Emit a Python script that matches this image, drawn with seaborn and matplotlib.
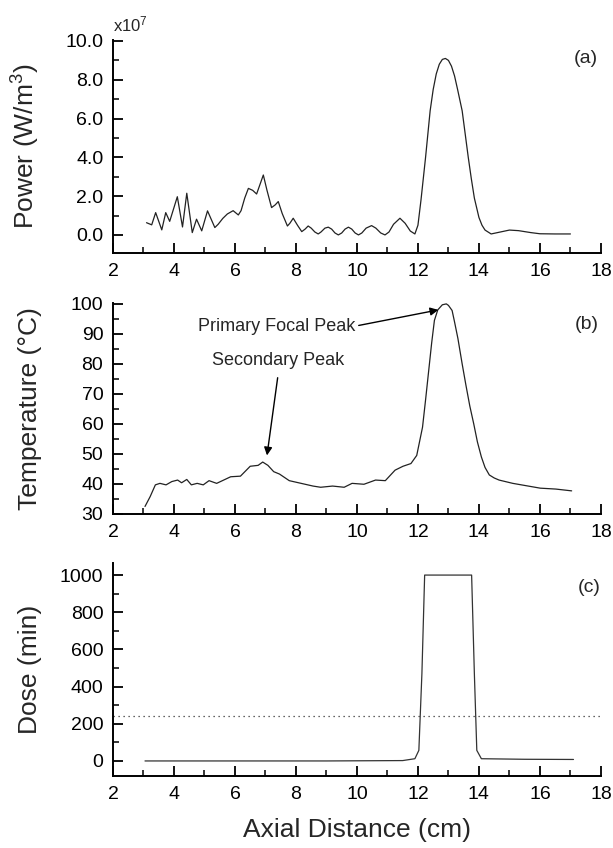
import numpy as np
import pandas as pd
import matplotlib
matplotlib.use("Agg")
import matplotlib.pyplot as plt
from matplotlib.ticker import MultipleLocator, FormatStrFormatter
import seaborn as sns

# ---------------- data ----------------
power_x = [3.10, 3.27, 3.40, 3.60, 3.73, 3.86, 4.11, 4.28, 4.42, 4.60, 4.74, 4.91, 5.10, 5.34,
           5.45, 5.60, 5.75, 5.94, 6.11, 6.20, 6.32, 6.44, 6.58, 6.71, 6.82, 6.93, 7.05, 7.20,
           7.32, 7.42, 7.55, 7.72, 7.80, 7.91, 8.05, 8.19, 8.30, 8.40, 8.50, 8.62, 8.73, 8.82,
           8.95, 9.06, 9.17, 9.28, 9.39, 9.50, 9.61, 9.72, 9.83, 9.94, 10.05, 10.16, 10.30,
           10.48, 10.62, 10.78, 10.92, 11.05, 11.20, 11.41, 11.58, 11.75, 11.90, 12.00, 12.10,
           12.25, 12.40, 12.50, 12.60, 12.70, 12.80, 12.90, 13.00, 13.10, 13.20, 13.30, 13.45,
           13.65, 13.75, 13.85, 14.00, 14.10, 14.20, 14.40, 14.70, 15.00, 15.30, 15.70, 16.00,
           16.50, 17.00]
power_y = [0.63, 0.52, 1.15, 0.26, 1.15, 0.70, 1.97, 0.41, 2.15, 0.12, 0.81, 0.21, 1.24, 0.38,
           0.55, 0.85, 1.08, 1.25, 1.03, 1.25, 1.90, 2.40, 2.30, 2.11, 2.60, 3.09, 2.30, 1.41,
           1.55, 1.72, 1.10, 0.46, 0.60, 0.86, 0.50, 0.17, 0.30, 0.46, 0.35, 0.15, 0.05, 0.15,
           0.35, 0.40, 0.30, 0.10, 0.00, 0.10, 0.30, 0.40, 0.30, 0.10, 0.00, 0.10, 0.35,
           0.48, 0.35, 0.10, 0.00, 0.15, 0.55, 0.86, 0.60, 0.20, 0.05, 0.50, 1.80,
           4.00, 6.40, 7.50, 8.30, 8.80, 9.05, 9.10, 9.00, 8.70, 8.20, 7.50, 6.40,
           4.00, 2.90, 1.90, 0.90, 0.50, 0.25, 0.05, 0.15, 0.25, 0.22, 0.12, 0.06,
           0.05, 0.05]

temp_x = [3.05, 3.22, 3.39, 3.54, 3.74, 3.93, 4.12, 4.25, 4.42, 4.57, 4.76, 4.96, 5.15, 5.40,
          5.86, 6.18, 6.50, 6.76, 6.91, 7.08, 7.27, 7.46, 7.78, 8.17, 8.56, 8.81, 9.20, 9.58,
          9.84, 10.23, 10.61, 10.93, 11.25, 11.51, 11.77, 11.96, 12.15, 12.25, 12.35, 12.45,
          12.54, 12.65, 12.80, 12.93, 13.00, 13.12, 13.20, 13.31, 13.45, 13.57, 13.70, 13.83,
          13.95, 14.08, 14.20, 14.34, 14.50, 14.66, 15.11, 16.01, 16.52, 17.04]
temp_y = [32.5, 35.8, 39.7, 40.2, 39.7, 40.8, 41.3, 40.4, 41.5, 39.7, 40.2, 39.7, 41.1, 40.2,
          42.4, 42.6, 45.9, 46.2, 47.3, 46.2, 44.1, 43.3, 41.1, 40.2, 39.3, 38.9, 39.3, 38.9,
          40.2, 39.9, 41.3, 41.1, 44.6, 45.9, 46.8, 49.5, 58.9, 68.0, 77.5, 87.0,
          94.5, 98.0, 99.7, 100.0, 99.5, 97.8, 94.0, 88.5, 80.0, 73.1, 66.0, 60.0,
          54.0, 49.0, 45.5, 43.0, 42.0, 41.3, 40.2, 38.6, 38.3, 37.7]

dose_x = [3.05, 6.0, 9.0, 11.50, 11.90, 12.03, 12.13, 12.22, 13.00, 13.76, 13.85, 13.93, 14.08,
          15.5, 17.10]
dose_y = [0, 0, 0, 2, 12, 57, 470, 1000, 1000, 1000, 470, 57, 12, 9, 8]

threshold_x = [2.0, 18.0]
threshold_y = [240, 240]

# ---------------- style ----------------
sns.set_theme(style="ticks")
plt.rcParams['font.family'] = ['Liberation Sans', 'DejaVu Sans']
plt.rcParams['mathtext.default'] = 'regular'

fig = plt.figure(figsize=(6.13, 8.48), dpi=100)
W = 0.796
axA = fig.add_axes([0.1843, 0.7017, W, 0.2511])
axB = fig.add_axes([0.1843, 0.3939, W, 0.2488])
axC = fig.add_axes([0.1843, 0.0849, W, 0.2512])

line_kw = dict(color='#222222', linewidth=0.9)

sns.lineplot(x=power_x, y=power_y, ax=axA, sort=False, **line_kw)
sns.lineplot(x=temp_x, y=temp_y, ax=axB, sort=False, **line_kw)
sns.lineplot(x=dose_x, y=dose_y, ax=axC, sort=False, color='#333333', linewidth=0.9)
sns.lineplot(x=threshold_x, y=threshold_y, ax=axC, sort=False, color='#333333',
             linewidth=0.9, linestyle=(0, (1, 3)))

tick_fs = 14
for ax in (axA, axB, axC):
    ax.set_xlim(2, 18)
    ax.xaxis.set_major_locator(MultipleLocator(2))
    ax.xaxis.set_minor_locator(MultipleLocator(1))
    for s in ('top', 'right'):
        ax.spines[s].set_visible(False)
    for s in ('left', 'bottom'):
        ax.spines[s].set_linewidth(1.4)
        ax.spines[s].set_color('black')
    ax.tick_params(which='major', direction='in', length=7, width=1.3, color='black',
                   labelsize=tick_fs, pad=7, labelcolor='black')
    ax.tick_params(which='minor', direction='in', length=4, width=1.1, color='black')
    ax.set_xlabel('')

axA.set_ylim(-0.93, 10.05)
axA.yaxis.set_major_locator(MultipleLocator(2))
axA.yaxis.set_minor_locator(MultipleLocator(1))
axA.yaxis.set_major_formatter(FormatStrFormatter('%.1f'))
axA.set_ylabel('Power (W/m$^3$)', fontsize=19)
axA.text(0.0, 1.025, 'x10$^7$', transform=axA.transAxes, fontsize=12, ha='left', va='bottom')
axA.text(17.5, 9.1, '(a)', fontsize=tick_fs, ha='center', va='center')

axB.set_ylim(30, 100.3)
axB.yaxis.set_major_locator(MultipleLocator(10))
axB.yaxis.set_minor_locator(MultipleLocator(5))
axB.set_ylabel('Temperature (°C)', fontsize=19)
axB.text(17.55, 93.2, '(b)', fontsize=tick_fs, ha='center', va='center')
axB.annotate('Primary Focal Peak', xy=(12.67, 98.0), xytext=(7.37, 92.6),
             fontsize=13, ha='center', va='center',
             arrowprops=dict(arrowstyle='-|>', color='black', lw=1.0, mutation_scale=12,
                             shrinkA=0, shrinkB=0, relpos=(1.0, 0.5)))
axB.text(7.4, 81.0, 'Secondary Peak', fontsize=13, ha='center', va='center')
axB.annotate('', xy=(7.05, 49.5), xytext=(7.4, 75.4),
             arrowprops=dict(arrowstyle='-|>', color='black', lw=1.0, mutation_scale=12,
                             shrinkA=0, shrinkB=0))

axC.set_ylim(-81, 1065)
axC.yaxis.set_major_locator(MultipleLocator(200))
axC.yaxis.set_minor_locator(MultipleLocator(100))
axC.set_ylabel('Dose (min)', fontsize=19)
axC.text(17.6, 935, '(c)', fontsize=tick_fs, ha='center', va='center')
axC.set_xlabel('Axial Distance (cm)', fontsize=19)
axC.xaxis.set_label_coords(0.5, -0.197)

for ax in (axA, axB, axC):
    ax.yaxis.set_label_coords(-0.145, 0.5)

fig.savefig('out.png', dpi=100, facecolor='white')
